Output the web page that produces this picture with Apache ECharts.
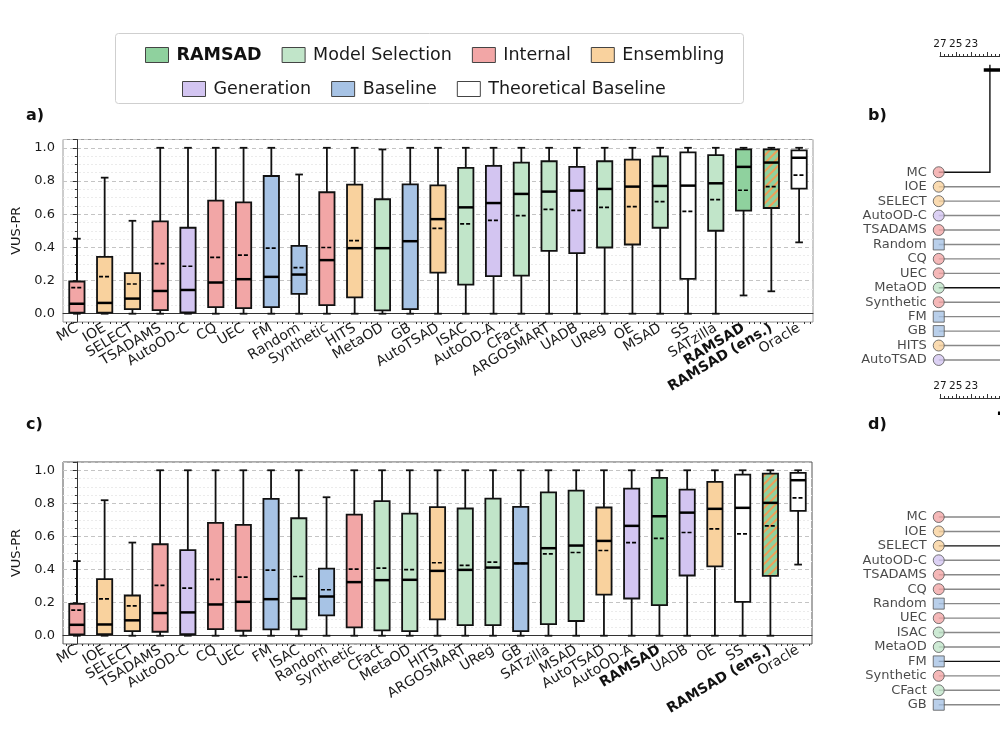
<!DOCTYPE html>
<html>
<head>
<meta charset="utf-8">
<script src="https://cdn.jsdelivr.net/npm/echarts@6/dist/echarts.min.js"></script>
<style>
html, body { margin: 0; background: #fff; }
#main { width: 1000px; height: 750px; }
</style>
</head>
<body>
<div id="main"></div>
<script>
// ---- panel a: methods ordered by mean VUS-PR ----
var catsA = ['MC', 'IOE', 'SELECT', 'TSADAMS', 'AutoOD-C', 'CQ', 'UEC', 'FM', 'Random', 'Synthetic', 'HITS', 'MetaOD', 'GB',
  'AutoTSAD', 'ISAC', 'AutoOD-A', 'CFact', 'ARGOSMART', 'UADB', 'UReg', 'OE', 'MSAD', 'SS', 'SATzilla', 'RAMSAD', 'RAMSAD (ens.)', 'Oracle'];
var lowA = [0, 0, 0, 0, 0, 0, 0, 0, 0, 0, 0, 0, 0, 0, 0, 0, 0, 0, 0, 0, 0, 0, 0, 0, 0.11, 0.135, 0.43];
var q1A = [0.006, 0.006, 0.028, 0.022, 0.008, 0.04, 0.034, 0.04, 0.119, 0.052, 0.099, 0.02, 0.028,
  0.248, 0.175, 0.226, 0.23, 0.379, 0.365, 0.399, 0.417, 0.518, 0.21, 0.5, 0.621, 0.637, 0.754];
var medA = [0.06, 0.065, 0.091, 0.137, 0.143, 0.188, 0.208, 0.222, 0.236, 0.323, 0.395, 0.395, 0.437,
  0.57, 0.641, 0.667, 0.722, 0.736, 0.742, 0.752, 0.766, 0.77, 0.772, 0.786, 0.885, 0.911, 0.94];
var q3A = [0.194, 0.343, 0.244, 0.556, 0.518, 0.681, 0.671, 0.83, 0.409, 0.732, 0.778, 0.69, 0.78,
  0.774, 0.879, 0.891, 0.911, 0.919, 0.885, 0.919, 0.929, 0.948, 0.972, 0.956, 0.99, 0.99, 0.984];
var highA = [0.452, 0.82, 0.56, 1, 1, 1, 1, 1, 0.839, 1, 1, 0.99, 1, 1, 1, 1, 1, 1, 1, 1, 1, 1, 1, 1, 1, 1, 1];
var meanA = [0.157, 0.224, 0.179, 0.302, 0.286, 0.339, 0.353, 0.395, 0.278, 0.399, 0.441, 0.396, 0.437,
  0.514, 0.542, 0.562, 0.591, 0.629, 0.623, 0.641, 0.645, 0.675, 0.617, 0.688, 0.744, 0.766, 0.835];

// ---- panel c ----
var catsC = ['MC', 'IOE', 'SELECT', 'TSADAMS', 'AutoOD-C', 'CQ', 'UEC', 'FM', 'ISAC', 'Random', 'Synthetic', 'CFact', 'MetaOD',
  'HITS', 'ARGOSMART', 'UReg', 'GB', 'SATzilla', 'MSAD', 'AutoTSAD', 'AutoOD-A', 'RAMSAD', 'UADB', 'OE', 'SS', 'RAMSAD (ens.)', 'Oracle'];
var lowC = [0, 0, 0, 0, 0, 0, 0, 0, 0, 0, 0, 0, 0, 0, 0, 0, 0, 0, 0, 0, 0, 0, 0, 0, 0, 0, 0.43];
var q1C = [0.008, 0.01, 0.028, 0.024, 0.01, 0.04, 0.03, 0.038, 0.038, 0.123, 0.05, 0.032, 0.028,
  0.099, 0.064, 0.064, 0.028, 0.07, 0.089, 0.249, 0.225, 0.185, 0.364, 0.419, 0.205, 0.362, 0.755];
var medC = [0.066, 0.068, 0.093, 0.137, 0.141, 0.189, 0.205, 0.221, 0.225, 0.237, 0.324, 0.336, 0.338,
  0.392, 0.398, 0.412, 0.437, 0.529, 0.545, 0.573, 0.664, 0.722, 0.744, 0.767, 0.773, 0.803, 0.94];
var q3C = [0.193, 0.342, 0.243, 0.553, 0.517, 0.682, 0.67, 0.827, 0.71, 0.406, 0.732, 0.813, 0.738,
  0.777, 0.769, 0.829, 0.779, 0.867, 0.877, 0.775, 0.889, 0.954, 0.883, 0.93, 0.974, 0.98, 0.984];
var highC = [0.451, 0.819, 0.563, 1, 1, 1, 1, 1, 1, 0.837, 1, 1, 1, 1, 1, 1, 1, 1, 1, 1, 1, 1, 1, 1, 1, 1, 1];
var meanC = [0.155, 0.223, 0.181, 0.304, 0.288, 0.34, 0.354, 0.396, 0.358, 0.278, 0.402, 0.408, 0.4,
  0.441, 0.425, 0.445, 0.437, 0.495, 0.503, 0.515, 0.563, 0.588, 0.624, 0.646, 0.616, 0.664, 0.833];

// ---- critical difference diagrams (b, d); ranks right of x=1000 are cut off in the figure ----
var cdNamesB = ['MC', 'IOE', 'SELECT', 'AutoOD-C', 'TSADAMS', 'Random', 'CQ', 'UEC', 'MetaOD', 'Synthetic', 'FM', 'GB', 'HITS', 'AutoTSAD'];
var cdGroupsB = ['Internal', 'Ensembling', 'Ensembling', 'Generation', 'Internal', 'Baseline', 'Internal', 'Internal',
  'Model Selection', 'Internal', 'Baseline', 'Baseline', 'Ensembling', 'Generation'];
var cdRanksB = [20.67, 19.1, 18.7, 18.3, 17.9, 17.4, 16.9, 16.5, 16.0, 15.6, 15.1, 14.8, 14.3, 13.9];
var cdBarB = [21.45, 10];
var cdNamesD = ['MC', 'IOE', 'SELECT', 'AutoOD-C', 'TSADAMS', 'CQ', 'Random', 'UEC', 'ISAC', 'MetaOD', 'FM', 'Synthetic', 'CFact', 'GB'];
var cdGroupsD = ['Internal', 'Ensembling', 'Ensembling', 'Generation', 'Internal', 'Internal', 'Baseline', 'Internal',
  'Model Selection', 'Model Selection', 'Baseline', 'Internal', 'Model Selection', 'Baseline'];
var cdRanksD = [19.2, 18.9, 18.4, 18.0, 17.6, 17.1, 16.8, 16.4, 16.1, 15.7, 15.2, 14.9, 14.5, 14.1];
var cdBarD = [19.65, 8];
var rankLabels = [27, 25, 23];

var groupOf = {
  'RAMSAD': 'RAMSAD',
  'MetaOD': 'Model Selection', 'ISAC': 'Model Selection', 'CFact': 'Model Selection', 'ARGOSMART': 'Model Selection',
  'UReg': 'Model Selection', 'MSAD': 'Model Selection', 'SATzilla': 'Model Selection',
  'MC': 'Internal', 'TSADAMS': 'Internal', 'CQ': 'Internal', 'UEC': 'Internal', 'Synthetic': 'Internal',
  'IOE': 'Ensembling', 'SELECT': 'Ensembling', 'HITS': 'Ensembling', 'AutoTSAD': 'Ensembling', 'OE': 'Ensembling',
  'AutoOD-C': 'Generation', 'AutoOD-A': 'Generation', 'UADB': 'Generation',
  'FM': 'Baseline', 'Random': 'Baseline', 'GB': 'Baseline',
  'SS': 'Theoretical Baseline', 'Oracle': 'Theoretical Baseline',
  'RAMSAD (ens.)': 'RAMSAD (ens.)'
};
var groupNames = ['RAMSAD', 'Model Selection', 'Internal', 'Ensembling', 'Generation', 'Baseline', 'Theoretical Baseline'];
var groupColors = {
  'RAMSAD': '#8fd19e', 'Model Selection': '#c1e5c9', 'Internal': '#f2a6a6', 'Ensembling': '#f9d29e',
  'Generation': '#d3c5f1', 'Baseline': '#a7c3e5', 'Theoretical Baseline': '#ffffff', 'RAMSAD (ens.)': '#8fd19e'
};
var darkB = ['MC', 'MetaOD'];
var darkD = ['SELECT', 'FM'];

// hatch for the ensemble box
var hatch = document.createElement('canvas');
hatch.width = 8; hatch.height = 8;
var hg = hatch.getContext('2d');
hg.fillStyle = '#8fd19e';
hg.fillRect(0, 0, 8, 8);
hg.strokeStyle = '#eea05a';
hg.lineWidth = 2;
hg.beginPath();
hg.moveTo(0, 8); hg.lineTo(8, 0);
hg.moveTo(-2, 2); hg.lineTo(2, -2);
hg.moveTo(6, 10); hg.lineTo(10, 6);
hg.stroke();
var hatchFill = {image: hatch, repeat: 'repeat'};

var FONT = 'DejaVu Sans';
var MARK_RANK = 27.16;

function makeBox(fill) {
  return function (params, api) {
    var i = api.value(0);
    var bw = api.size([1, 0])[0] * 0.55;
    var lo = api.coord([i, api.value(1)]);
    var b = api.coord([i, api.value(2)]);
    var m = api.coord([i, api.value(3)]);
    var t = api.coord([i, api.value(4)]);
    var hi = api.coord([i, api.value(5)]);
    var mn = api.coord([i, api.value(6)]);
    var x = b[0];
    var s = {stroke: '#111', lineWidth: 1.8};
    function seg(x1, y1, x2, y2, st) {
      return {type: 'line', shape: {x1: x1, y1: y1, x2: x2, y2: y2}, style: st || s};
    }
    return {
      type: 'group',
      children: [
        seg(x, lo[1], x, b[1]),
        seg(x, t[1], x, hi[1]),
        seg(x - bw / 4, lo[1], x + bw / 4, lo[1]),
        seg(x - bw / 4, hi[1], x + bw / 4, hi[1]),
        {type: 'rect', shape: {x: x - bw / 2, y: t[1], width: bw, height: b[1] - t[1]},
          style: {fill: fill, stroke: '#111', lineWidth: 1.8}},
        seg(x - bw / 2, m[1], x + bw / 2, m[1], {stroke: '#000', lineWidth: 2.5}),
        seg(x - bw / 2 + 2, mn[1], x + bw / 2 - 2, mn[1], {stroke: '#000', lineWidth: 1.7, lineDash: [4, 2]})
      ]
    };
  };
}

function boxSeries(panel, cats, lo, q1, med, q3, hi, mean) {
  var list = [];
  groupNames.concat(['RAMSAD (ens.)']).forEach(function (g) {
    var rows = [];
    cats.forEach(function (c, i) {
      if (groupOf[c] === g) rows.push([i, lo[i], q1[i], med[i], q3[i], hi[i], mean[i]]);
    });
    list.push({
      type: 'custom',
      name: g,
      xAxisIndex: panel * 2,
      yAxisIndex: panel,
      itemStyle: {color: groupColors[g]},
      renderItem: makeBox(g === 'RAMSAD (ens.)' ? hatchFill : groupColors[g]),
      encode: {x: 0, y: [1, 2, 3, 4, 5, 6]},
      data: rows,
      z: 3
    });
  });
  return list;
}

function cdSeries(k, names, groups, ranks, dark, bar, rowStart, barLevel) {
  var ax = 4 + k, ay = 2 + k;
  return [
    {
      type: 'custom', xAxisIndex: ax, yAxisIndex: ay, clip: false, silent: true, z: 2,
      data: names.map(function (n, i) { return [ranks[i], rowStart + i]; }),
      renderItem: function (params, api) {
        var p = api.coord([api.value(0), api.value(1)]);
        var s = api.coord([MARK_RANK, api.value(1)]);
        var top = api.coord([api.value(0), 0.6]);
        var isDark = dark.indexOf(names[params.dataIndex]) >= 0;
        return {type: 'polyline', shape: {points: [s, p, [p[0], top[1]]]},
          style: {fill: null, stroke: isDark ? '#111' : '#888', lineWidth: 1.4}};
      }
    },
    {
      type: 'custom', xAxisIndex: ax, yAxisIndex: ay, clip: false, silent: true, z: 3,
      data: [[bar[0], bar[1], barLevel]],
      renderItem: function (params, api) {
        var a = api.coord([api.value(0), api.value(2)]);
        var b = api.coord([api.value(1), api.value(2)]);
        return {type: 'line', shape: {x1: a[0], y1: a[1], x2: b[0], y2: b[1]}, style: {stroke: '#000', lineWidth: 3.5}};
      }
    },
    {
      type: 'scatter', xAxisIndex: ax, yAxisIndex: ay, clip: false, silent: true, z: 4,
      symbolSize: 11,
      data: names.map(function (n, i) {
        return {
          name: n, value: [MARK_RANK, rowStart + i],
          symbol: groups[i] === 'Baseline' ? 'rect' : 'circle',
          itemStyle: {color: groupColors[groups[i]], borderColor: '#555', borderWidth: 1}
        };
      }),
      label: {show: true, position: 'left', distance: 6, formatter: '{b}', fontSize: 13, color: '#1a1a1a', fontFamily: FONT}
    }
  ];
}

var minorX = [];
for (var i = 0; i < 27; i++) {
  [-0.4, -0.2, 0.2, 0.4].forEach(function (d) { minorX.push(i + d); });
}
var boldCats = {'RAMSAD': true, 'RAMSAD (ens.)': true};

function catAxis(grid, cats) {
  return {
    type: 'category', gridIndex: grid, data: cats, boundaryGap: true,
    axisLine: {lineStyle: {color: '#333', width: 1}},
    axisTick: {alignWithLabel: true, length: 4, lineStyle: {color: '#333'}},
    axisLabel: {
      interval: 0, rotate: 31, margin: 5, fontSize: 14, color: '#1a1a1a', fontFamily: FONT,
      formatter: function (v) { return boldCats[v] ? '{b|' + v + '}' : v; },
      rich: {b: {fontWeight: 'bold', fontSize: 14, color: '#111', fontFamily: FONT}}
    },
    splitLine: {show: false}
  };
}
function minorAxis(grid) {
  return {
    type: 'value', gridIndex: grid, min: -0.5, max: 26.5, position: 'bottom',
    axisLine: {show: false}, axisLabel: {show: false}, splitLine: {show: false},
    axisTick: {show: true, length: 2, customValues: minorX, lineStyle: {color: '#333'}}
  };
}
function valAxis(grid) {
  return {
    type: 'value', gridIndex: grid, min: -0.05, max: 1.05, splitNumber: 5,
    name: 'VUS-PR', nameLocation: 'middle', nameGap: 30,
    nameTextStyle: {fontSize: 13, color: '#1a1a1a', fontFamily: FONT},
    axisLine: {show: true, lineStyle: {color: '#333'}},
    axisTick: {show: true, length: 4, lineStyle: {color: '#333'}},
    minorTick: {show: true, splitNumber: 4, length: 2, lineStyle: {color: '#333'}},
    axisLabel: {fontSize: 13, color: '#1a1a1a', fontFamily: FONT, showMinLabel: false, showMaxLabel: false,
      formatter: function (v) { return v.toFixed(1); }},
    splitLine: {show: true, lineStyle: {color: '#c4c4c4', type: [4, 3]}},
    minorSplitLine: {show: true, lineStyle: {color: '#ebebeb', type: [2, 2]}}
  };
}
function rankAxis(grid) {
  return {
    type: 'value', gridIndex: grid, inverse: true, min: 1, max: 27, interval: 2, position: 'top',
    axisLine: {show: true, lineStyle: {color: '#333'}},
    axisTick: {show: true, length: 4, lineStyle: {color: '#333'}},
    minorTick: {show: true, splitNumber: 4, length: 2, lineStyle: {color: '#333'}},
    axisLabel: {fontSize: 10.5, color: '#1a1a1a', fontFamily: FONT, margin: 6,
      showMinLabel: true, showMaxLabel: true, hideOverlap: false,
      formatter: function (v) { return rankLabels.indexOf(v) >= 0 ? String(v) : ''; }},
    splitLine: {show: false}
  };
}
function rowAxis(grid) {
  return {type: 'value', gridIndex: grid, inverse: true, min: 0, max: 22, show: false};
}

var chart = echarts.init(document.getElementById('main'), null, {renderer: 'canvas'});
chart.setOption({
  animation: false,
  textStyle: {fontFamily: FONT},
  title: [
    {text: 'a)', left: 21, top: 103, textStyle: {fontSize: 16, fontWeight: 'bold', color: '#111', fontFamily: FONT}},
    {text: 'b)', left: 863, top: 103, textStyle: {fontSize: 16, fontWeight: 'bold', color: '#111', fontFamily: FONT}},
    {text: 'c)', left: 21, top: 412, textStyle: {fontSize: 16, fontWeight: 'bold', color: '#111', fontFamily: FONT}},
    {text: 'd)', left: 863, top: 412, textStyle: {fontSize: 16, fontWeight: 'bold', color: '#111', fontFamily: FONT}}
  ],
  graphic: [{
    type: 'rect', left: 115, top: 33, z: 0,
    shape: {width: 628, height: 70, r: 3},
    style: {fill: '#fff', stroke: '#cfcfcf', lineWidth: 1}
  }],
  legend: [
    {
      data: ['RAMSAD', 'Model Selection', 'Internal', 'Ensembling'],
      left: 140, top: 41, itemWidth: 23, itemHeight: 15, itemGap: 20, icon: 'rect',
      itemStyle: {borderColor: '#444', borderWidth: 1},
      textStyle: {fontSize: 17.5, color: '#1a1a1a', fontFamily: FONT, padding: [0, 0, 0, 3],
        rich: {b: {fontSize: 17.5, fontWeight: 'bold', color: '#111', fontFamily: FONT}}},
      formatter: function (n) { return n === 'RAMSAD' ? '{b|RAMSAD}' : n; },
      selectedMode: false
    },
    {
      data: ['Generation', 'Baseline', 'Theoretical Baseline'],
      left: 177, top: 75, itemWidth: 23, itemHeight: 15, itemGap: 20, icon: 'rect',
      itemStyle: {borderColor: '#444', borderWidth: 1},
      textStyle: {fontSize: 17.5, color: '#1a1a1a', fontFamily: FONT, padding: [0, 0, 0, 3]},
      selectedMode: false
    }
  ],
  grid: [
    {left: 63, top: 139.5, width: 750, height: 182.5, show: true, borderColor: '#9a9a9a', borderWidth: 1, outerBoundsMode: 'none'},
    {left: 63, top: 462, width: 749, height: 182, show: true, borderColor: '#555', borderWidth: 1, outerBoundsMode: 'none'},
    {left: 940, top: 56, width: 205, height: 317.7, outerBoundsMode: 'none'},
    {left: 940, top: 398, width: 205, height: 317.7, outerBoundsMode: 'none'}
  ],
  xAxis: [catAxis(0, catsA), minorAxis(0), catAxis(1, catsC), minorAxis(1), rankAxis(2), rankAxis(3)],
  yAxis: [valAxis(0), valAxis(1), rowAxis(2), rowAxis(3)],
  series: []
    .concat(boxSeries(0, catsA, lowA, q1A, medA, q3A, highA, meanA))
    .concat(boxSeries(1, catsC, lowC, q1C, medC, q3C, highC, meanC))
    .concat(cdSeries(0, cdNamesB, cdGroupsB, cdRanksB, darkB, cdBarB, 8.05, 0.97))
    .concat(cdSeries(1, cdNamesD, cdGroupsD, cdRanksD, darkD, cdBarD, 8.24, 1.06))
});
</script>
</body>
</html>
